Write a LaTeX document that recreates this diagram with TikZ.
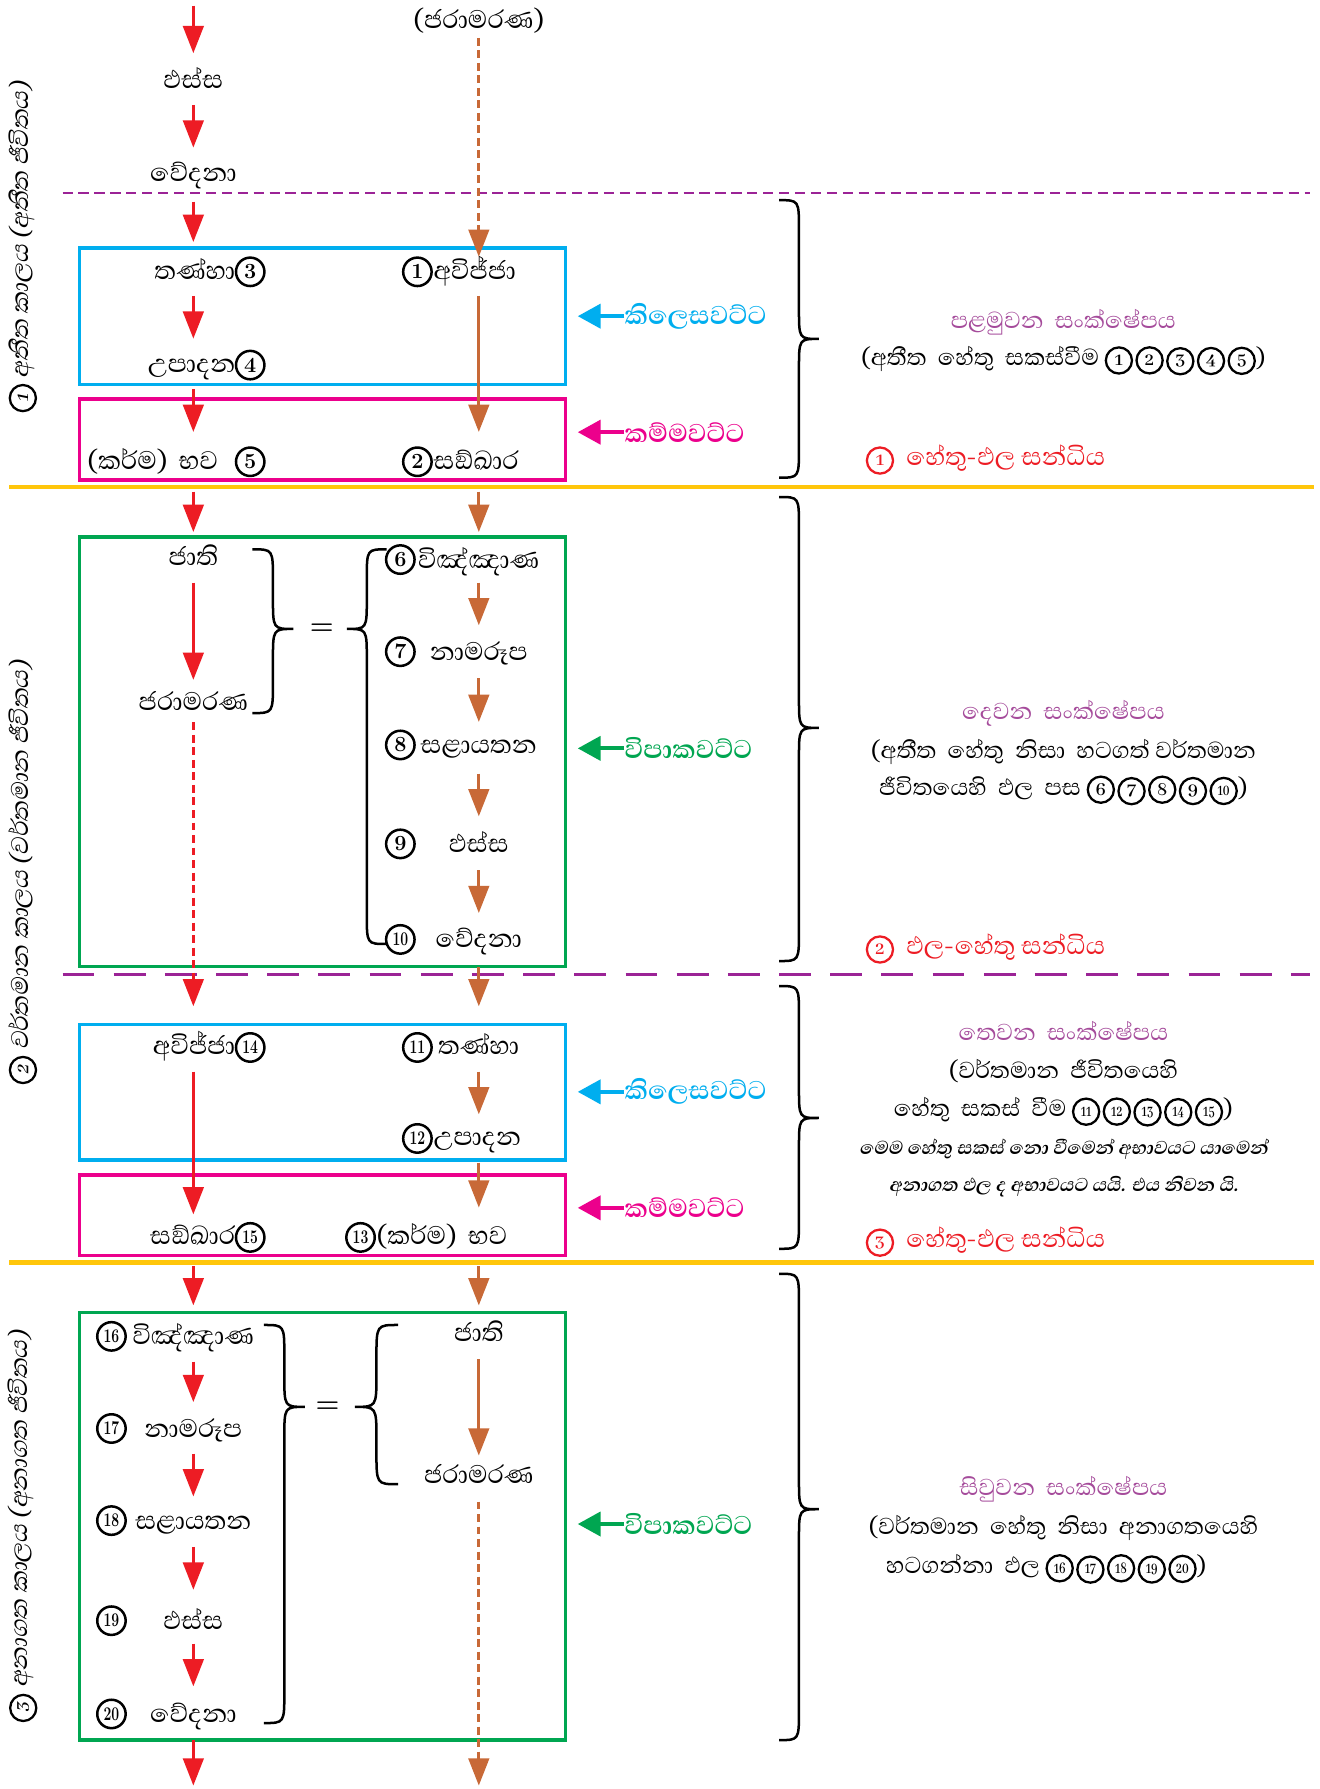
\documentclass[tikz,border=0pt]{standalone}
\usepackage{fontspec}
\usepackage{graphicx}
\usetikzlibrary{arrows.meta}
\newfontfamily\sinhfont[Script=Sinhala]{Abhaya Libre}
\newfontfamily\sinhsl[Script=Sinhala,FakeSlant=0.2]{Abhaya Libre}
\definecolor{ared}{RGB}{237,28,36}
\definecolor{aorange}{RGB}{200,105,55}
\definecolor{ablue}{RGB}{0,174,239}
\definecolor{apink}{RGB}{236,0,140}
\definecolor{agreen}{RGB}{0,166,81}
\definecolor{apurple}{RGB}{165,75,155}
\definecolor{aline}{RGB}{155,35,150}
\definecolor{ayellow}{RGB}{255,198,11}
\tikzset{
 lbl/.style={font=\sinhfont\fontsize{28.5}{30}\selectfont, inner sep=0pt, text height=18.5pt, text depth=3.5pt},
 sumtxt/.style={font=\sinhfont\fontsize{26}{28}\selectfont, inner sep=0pt, text height=17pt, text depth=4pt},
 sumtitle/.style={sumtxt, text=apurple},
 sandhi/.style={font=\sinhfont\fontsize{28}{30}\selectfont, inner sep=0pt, text height=17pt, text depth=4pt, text=ared, anchor=west},
 note/.style={font=\sinhsl\bfseries\fontsize{21}{23}\selectfont, inner sep=0pt, text height=13pt, text depth=3pt},
 sidelbl/.style={font=\sinhfont\bfseries\fontsize{29}{31}\selectfont, inner sep=0pt, anchor=west},
 vlbl/.style={font=\sinhsl\fontsize{27}{29}\selectfont, rotate=90, inner sep=0pt},
 cnum/.style={draw, circle, line width=2.2pt, inner sep=0pt, minimum size=25pt, font=\bfseries\fontsize{19}{19}\selectfont},
 cnumt/.style={cnum, font=\bfseries\fontsize{17}{17}\selectfont},
 cnums/.style={draw, circle, line width=2pt, inner sep=0pt, minimum size=23pt, font=\bfseries\fontsize{17.5}{17.5}\selectfont},
 cnumst/.style={cnums, font=\bfseries\fontsize{15.5}{15.5}\selectfont},
 rarr/.style={draw=ared, line width=2.8pt, -{Triangle[length=24pt,width=18pt]}},
 oarr/.style={draw=aorange, line width=2.8pt, -{Triangle[length=24pt,width=18pt]}},
 rdot/.style={rarr, dash pattern=on 7pt off 4pt},
 odot/.style={oarr, dash pattern=on 7pt off 4pt},
 sarr/.style={line width=3.5pt, -{Triangle[length=20pt,width=21pt]}},
 frame/.style={line width=3pt},
 brc/.style={draw=black, line width=2.2pt},
 ss/.style={shorten <=#1},
 se/.style={shorten >=#1},
}
\newcommand\tw[1]{\scalebox{0.72}[1]{#1}}
\newcommand\cn[2][black]{\tikz[baseline=(X.base)]\node[cnums,draw=#1,text=#1](X){#2};}
\newcommand\cnt[2][black]{\tikz[baseline=(X.base)]\node[cnumst,draw=#1,text=#1](X){\tw{#2}};}
\newcommand\gp{\hspace{2pt}}
% brace: #1 x of ends, #2 amplitude (signed), #3 top y, #4 tip y, #5 bottom y
\newcommand\MyBrace[5]{%
 \pgfmathsetmacro\bh{#1+#2/2}\pgfmathsetmacro\bt{#1+#2}\pgfmathsetmacro\br{abs(#2)*0.75}%
 \draw[brc] (#1,#3) .. controls (\bh,#3) .. (\bh,{#3+\br}) -- (\bh,{#4-\br}) .. controls (\bh,#4) .. (\bt,#4)
   .. controls (\bh,#4) .. (\bh,{#4+\br}) -- (\bh,{#5-\br}) .. controls (\bh,#5) .. (#1,#5);}
\begin{document}
\begin{tikzpicture}[x=1pt,y=-1pt]
\path[use as bounding box, fill=white] (0,0) rectangle (1160,1573);

% ---------- separators
\draw[aline, line width=1.6pt, dash pattern=on 9pt off 5pt] (55,170) -- (1152,170);
\draw[ayellow, line width=4pt] (8,428) -- (1155,428);
\draw[aline, line width=3pt, dash pattern=on 28pt off 17pt] (55,857) -- (1152,857);
\draw[ayellow, line width=4pt] (8,1110) -- (1155,1110);

% ---------- frames
\draw[frame, ablue] (70,218) rectangle (497,338);
\draw[frame, apink] (70,351) rectangle (497,422);
\draw[frame, agreen] (70,472) rectangle (497,850);
\draw[frame, ablue] (70,901) rectangle (497,1020);
\draw[frame, apink] (70,1033) rectangle (497,1104);
\draw[frame, agreen] (70,1154) rectangle (497,1530);

% ---------- section 1 nodes
\coordinate (top0) at (170,5);
\coordinate (colL) at (170,0);
\coordinate (colR) at (421,0);
\node[lbl] (jm0) at (421,18) {(ජරාමරණ)};
\node[lbl] (ph0) at (170,70) {ඵස්ස};
\node[lbl] (ve0) at (170,152) {වේදනා};
\node[lbl, anchor=east] (ta3) at (207,238) {තණ්හා};
\node[cnum] (c3) at (220,239) {3};
\node[cnum] (c1) at (367,239) {1};
\node[lbl, anchor=west] (av1) at (381,238) {අවිජ්ජා};
\node[lbl, anchor=east] (up4) at (207,320) {උපාදන};
\node[cnum] (c4) at (220,321) {4};
\node[lbl, anchor=east] (bh5) at (192,405) {(කර්ම)\hspace{10pt}භව};
\node[cnum] (c5) at (220,406) {5};
\node[cnum] (c2) at (367,406) {2};
\node[lbl, anchor=west] (sa2) at (381,405) {සඞ්ඛාර};

% ---------- section 2 nodes
\node[lbl] (ja2) at (170,490) {ජාති};
\node[lbl] (jm2) at (170,617) {ජරාමරණ};
\node[cnum] (c6) at (352,492) {6};
\node[lbl] (vi6) at (421,492) {විඤ්ඤාණ};
\node[cnum] (c7) at (352,573) {7};
\node[lbl] (na7) at (421,573) {නාමරූප};
\node[cnum] (c8) at (352,655) {8};
\node[lbl] (sl8) at (421,655) {සළායතන};
\node[cnum] (c9) at (352,742) {9};
\node[lbl] (ph9) at (421,742) {ඵස්ස};
\node[cnumt] (c10) at (352,826) {\tw{10}};
\node[lbl] (ve10) at (421,826) {වේදනා};
\node[font=\bfseries\fontsize{24}{24}\selectfont] (eq2) at (283,553) {=};

% ---------- section 3 nodes
\node[lbl, anchor=east] (av14) at (207,920) {අවිජ්ජා};
\node[cnumt] (c14) at (220,921) {\tw{14}};
\node[cnumt] (c11) at (367,921) {\tw{11}};
\node[lbl, anchor=west] (ta11) at (385,920) {තණ්හා};
\node[cnumt] (c12) at (367,1001) {\tw{12}};
\node[lbl, anchor=west] (up12) at (381,1000) {උපාදන};
\node[lbl, anchor=east] (sk15) at (207,1087) {සඞ්ඛාර};
\node[cnumt] (c15) at (220,1088) {\tw{15}};
\node[cnumt] (c13) at (317,1088) {\tw{13}};
\node[lbl, anchor=west] (bh13) at (331,1087) {(කර්ම)\hspace{10pt}භව};

% ---------- section 4 nodes
\node[cnumt] (c16) at (98,1175) {\tw{16}};
\node[lbl] (vi16) at (170,1175) {විඤ්ඤාණ};
\node[cnumt] (c17) at (98,1256) {\tw{17}};
\node[lbl] (na17) at (170,1256) {නාමරූප};
\node[cnumt] (c18) at (98,1337) {\tw{18}};
\node[lbl] (sl18) at (170,1337) {සළායතන};
\node[cnumt] (c19) at (98,1425) {\tw{19}};
\node[lbl] (ph19) at (170,1425) {ඵස්ස};
\node[cnumt] (c20) at (98,1507) {\tw{20}};
\node[lbl] (ve20) at (170,1507) {වේදනා};
\node[lbl] (ja4) at (421,1172) {ජාති};
\node[lbl] (jm4) at (421,1297) {ජරාමරණ};
\node[font=\bfseries\fontsize{24}{24}\selectfont] (eq4) at (288,1237) {=};
\coordinate (botL) at (170,1570);
\coordinate (botR) at (421,1570);

% ---------- left column arrows
\draw[rarr, se=12pt] (top0) -- (ph0.north);
\draw[rarr, ss=11pt, se=11pt] (ph0.south) -- (ve0.north);
\draw[rarr, ss=14pt, se=14pt] (ve0.south) -- (ta3.north -| colL);
\draw[rarr, ss=11pt, se=11pt] (ta3.south -| colL) -- (up4.north -| colL);
\draw[rarr, ss=11pt, se=14pt] (up4.south -| colL) -- (bh5.north -| colL);
\draw[rarr, ss=16pt, se=11pt] (bh5.south -| colL) -- (ja2.north);
\draw[rarr, ss=11pt, se=8pt] (ja2.south) -- (jm2.north);
\draw[rdot, ss=7pt, se=24pt] (jm2.south) -- (av14.north -| colL);
\draw[rarr, ss=11pt, se=8pt] (av14.south -| colL) -- (sk15.north -| colL);
\draw[rarr, ss=15pt, se=16pt] (sk15.south -| colL) -- (vi16.north);
\draw[rarr, ss=11pt, se=12pt] (vi16.south) -- (na17.north);
\draw[rarr, ss=11pt, se=10pt] (na17.south) -- (sl18.north);
\draw[rarr, ss=12pt, se=16pt] (sl18.south) -- (ph19.north);
\draw[rarr, ss=9pt, se=13pt] (ph19.south) -- (ve20.north);
\draw[rarr, ss=12pt] (ve20.south) -- (botL);

% ---------- right column arrows
\draw[odot, ss=4pt, se=3pt] (jm0.south) -- ([yshift=-2pt]av1.north -| colR);
\draw[oarr, ss=11pt, se=14pt] (av1.south -| colR) -- (sa2.north -| colR);
\draw[oarr, ss=16pt, se=13pt] (sa2.south -| colR) -- (vi6.north);
\draw[oarr, ss=9pt, se=12pt] (vi6.south) -- (na7.north);
\draw[oarr, ss=12pt, se=9pt] (na7.south) -- (sl8.north);
\draw[oarr, ss=14pt, se=13pt] (sl8.south) -- (ph9.north);
\draw[oarr, ss=12pt, se=12pt] (ph9.south) -- (ve10.north);
\draw[oarr, ss=13pt, se=24pt] (ve10.south) -- (ta11.north -| colR);
\draw[oarr, ss=11pt, se=9pt] (ta11.south -| colR) -- (up12.north -| colR);
\draw[oarr, ss=11pt, se=14pt] (up12.south -| colR) -- (bh13.north -| colR);
\draw[oarr, ss=15pt, se=13pt] (bh13.south -| colR) -- (ja4.north);
\draw[oarr, ss=12pt, se=6pt] (ja4.south) -- (jm4.north);
\draw[odot, ss=12pt] (jm4.south) -- (botR);

% ---------- inner braces
\MyBrace{222}{36}{483}{553}{627}
\MyBrace{340}{-35}{483}{553}{830}
\MyBrace{232}{36}{1165}{1237}{1515}
\MyBrace{350}{-38}{1165}{1237}{1305}

% ---------- big braces
\MyBrace{685}{35}{176}{298}{420}
\MyBrace{685}{35}{437}{640}{845}
\MyBrace{685}{35}{867}{983}{1098}
\MyBrace{685}{35}{1120}{1327}{1530}

% ---------- side labels
\node[sidelbl, text=ablue] (kil1) at (549,278) {කිලෙසවට්ට};
\draw[sarr, ablue] (kil1.west) -- ++(-41,0);
\node[sidelbl, text=apink] (kam1) at (549,380) {කම්මවට්ට};
\draw[sarr, apink] (kam1.west) -- ++(-41,0);
\node[sidelbl, text=agreen] (vip2) at (549,658) {විපාකවට්ට};
\draw[sarr, agreen] (vip2.west) -- ++(-41,0);
\node[sidelbl, text=ablue] (kil3) at (549,960) {කිලෙසවට්ට};
\draw[sarr, ablue] (kil3.west) -- ++(-41,0);
\node[sidelbl, text=apink] (kam3) at (549,1062) {කම්මවට්ට};
\draw[sarr, apink] (kam3.west) -- ++(-41,0);
\node[sidelbl, text=agreen] (vip4) at (549,1340) {විපාකවට්ට};
\draw[sarr, agreen] (vip4.west) -- ++(-41,0);

% ---------- summaries
\node[sumtitle] (s1t) at (935,282) {පළමුවන\ \ සංක්ෂේපය};
\node[sumtxt] (s1a) at (935,315) {(අතීත\ \ හේතු\ \ සකස්වීම \cn{1}\gp\cn{2}\gp\cn{3}\gp\cn{4}\gp\cn{5})};
\node[sandhi] (sd1) at (761,403) {\cn[ared]{1}\ \ හේතු-ඵල සන්ධිය};

\node[sumtitle] (s2t) at (935,626) {දෙවන\ \ සංක්ෂේපය};
\node[sumtxt] (s2a) at (935,660) {(අතීත\ \ හේතු\ \ නිසා\ \ හටගත්\ වර්තමාන};
\node[sumtxt] (s2b) at (935,693) {ජීවිතයෙහි\ \ ඵල\ \ පස \cn{6}\gp\cn{7}\gp\cn{8}\gp\cn{9}\gp\cnt{10})};
\node[sandhi] (sd2) at (761,833) {\cn[ared]{2}\ \ ඵල-හේතු සන්ධිය};

\node[sumtitle] (s3t) at (935,908) {තෙවන\ \ සංක්ෂේපය};
\node[sumtxt] (s3a) at (935,942) {(වර්තමාන\ \ ජීවිතයෙහි};
\node[sumtxt] (s3b) at (935,975) {හේතු\ \ සකස්\ \ වීම \cnt{11}\gp\cnt{12}\gp\cnt{13}\gp\cnt{14}\gp\cnt{15})};
\node[note] (s3c) at (935,1010) {මෙම හේතු සකස් නො වීමෙන් අභාවයට යාමෙන්};
\node[note] (s3d) at (935,1043) {අනාගත ඵල ද අභාවයට යයි. එය නිවන යි.};
\node[sandhi] (sd3) at (761,1090) {\cn[ared]{3}\ \ හේතු-ඵල සන්ධිය};

\node[sumtitle] (s4t) at (935,1308) {සිවුවන\ \ සංක්ෂේපය};
\node[sumtxt] (s4a) at (935,1343) {(වර්තමාන\ \ හේතු\ \ නිසා\ \ අනාගතයෙහි};
\node[sumtxt] (s4b) at (920,1377) {හටගන්නා\ \ ඵල \cnt{16}\gp\cnt{17}\gp\cnt{18}\gp\cnt{19}\gp\cnt{20})};

% ---------- vertical period labels
\node[vlbl] (p1) at (20,217) {\cn{1}\ අතීත\ කාලය\ (අතීත\ ජීවිතය)};
\node[vlbl] (p2) at (20,767) {\cn{2}\ වර්තමාන\ කාලය\ (වර්තමාන\ ජීවිතය)};
\node[vlbl] (p3) at (20,1342) {\cn{3}\ අනාගත\ කාලය\ (අනාගත\ ජීවිතය)};
\end{tikzpicture}
\end{document}
